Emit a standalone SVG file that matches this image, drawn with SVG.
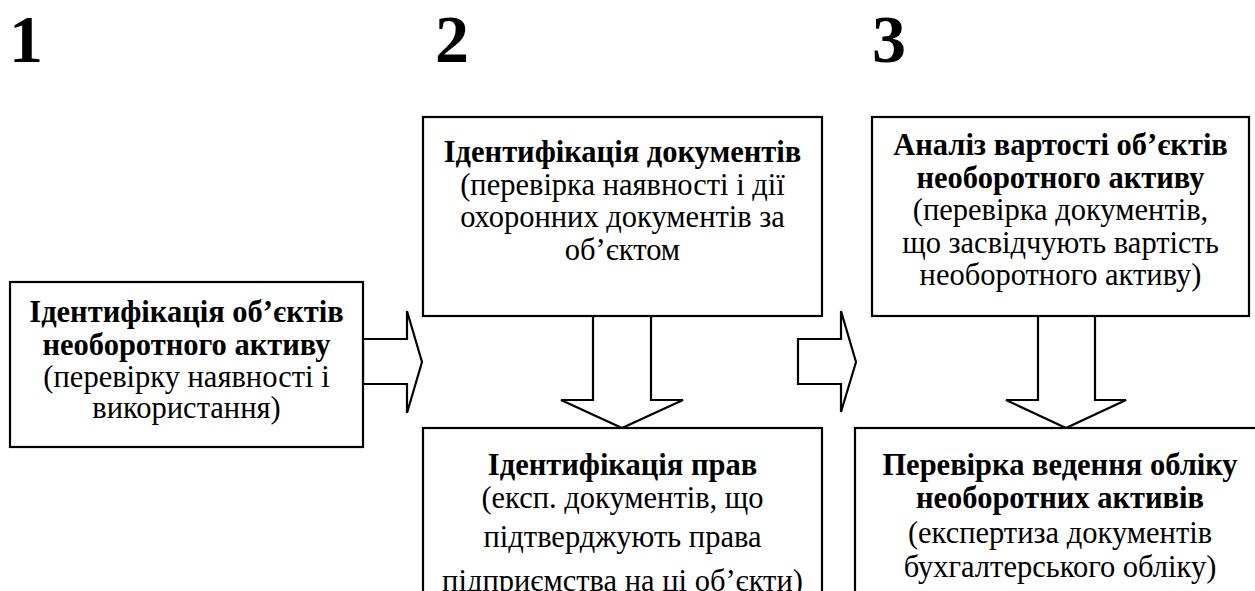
<svg xmlns="http://www.w3.org/2000/svg" width="1255" height="591" viewBox="0 0 1255 591">
<style>
.box{fill:#fff;stroke:#000;stroke-width:2.2}
.arr{fill:#fff;stroke:#000;stroke-width:2.2;stroke-linejoin:miter}
text{font-family:"Liberation Serif","Tinos","Times New Roman","DejaVu Serif",serif;fill:#000;text-anchor:middle}
.t{font-size:30.5px;font-weight:bold}
.n{font-size:30.5px}
.num{font-size:68px;font-weight:bold}
</style>
<rect width="1255" height="591" fill="#fff"/>
<g id="labels">
<text class="num" x="26" y="62">1</text>
<text class="num" x="452" y="62">2</text>
<text class="num" x="889" y="62">3</text>
</g>
<g id="connectors">
<polygon class="arr" points="363,339 407,339 407,311 422,362 407,413 407,384 363,384"/>
<polygon class="arr" points="593,316 651,316 651,400 683,400 622,428 561,400 593,400"/>
<polygon class="arr" points="798,339 841,339 841,311 856,362 841,412 841,384 798,384"/>
<polygon class="arr" points="1038,316 1095,316 1095,400 1126,400 1066,428 1006,400 1038,400"/>
</g>
<g id="node1">
<rect class="box" x="10" y="282" width="353" height="165"/>
<text class="t" x="186.5" y="321.5">Ідентифікація об’єктів</text>
<text class="t" x="186.5" y="354.5">необоротного активу</text>
<text class="n" x="186.5" y="386.5">(перевірку наявності і</text>
<text class="n" x="186.5" y="417.5">використання)</text>
</g>
<g id="node2">
<rect class="box" x="423" y="117" width="399" height="199"/>
<text class="t" x="622.5" y="161.5">Ідентифікація документів</text>
<text class="n" x="622.5" y="194.5">(перевірка наявності і дії</text>
<text class="n" x="622.5" y="226.5">охоронних документів за</text>
<text class="n" x="622.5" y="259.5">об’єктом</text>
</g>
<g id="node3">
<rect class="box" x="423" y="428" width="399" height="180"/>
<text class="t" x="622.5" y="475">Ідентифікація прав</text>
<text class="n" x="622.5" y="508">(експ. документів, що</text>
<text class="n" x="622.5" y="547">підтверджують права</text>
<text class="n" x="622.5" y="591">підприємства на ці об’єкти)</text>
</g>
<g id="node4">
<rect class="box" x="872" y="117" width="377" height="199"/>
<text class="t" x="1060.5" y="154.5">Аналіз вартості об’єктів</text>
<text class="t" x="1060.5" y="187.5">необоротного активу</text>
<text class="n" x="1060.5" y="219.5">(перевірка документів,</text>
<text class="n" x="1060.5" y="252.5">що засвідчують вартість</text>
<text class="n" x="1060.5" y="284.5">необоротного активу)</text>
</g>
<g id="node5">
<rect class="box" x="855" y="428" width="410" height="180"/>
<text class="t" x="1060" y="475">Перевірка ведення обліку</text>
<text class="t" x="1060" y="508">необоротних активів</text>
<text class="n" x="1060" y="542.5">(експертиза документів</text>
<text class="n" x="1060" y="577">бухгалтерського обліку)</text>
</g>
</svg>
